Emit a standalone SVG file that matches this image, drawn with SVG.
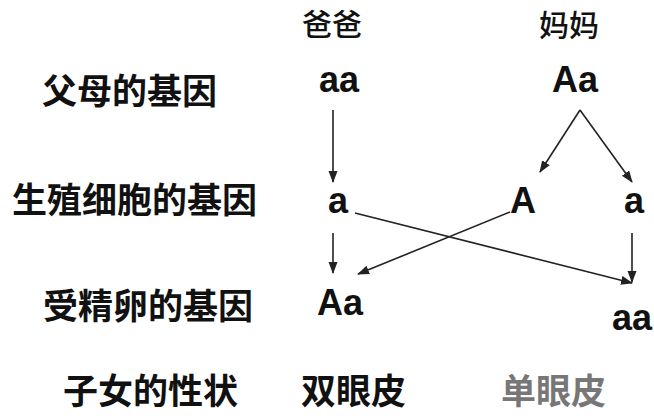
<svg xmlns="http://www.w3.org/2000/svg" width="654" height="416" viewBox="0 0 654 416">
<defs>
<style>
.cn{font-family:"Noto Sans CJK SC","Liberation Sans",sans-serif;font-weight:bold;fill:#111;}
.big{font-size:35px;}
.hd{font-size:30px;font-weight:500;}
.g{font-family:"Liberation Sans",Arial,sans-serif;font-weight:bold;font-size:36px;fill:#111;text-anchor:middle;}
.ln{stroke:#222;stroke-width:1.6;fill:none;marker-end:url(#ah);}
</style>
<marker id="ah" markerUnits="userSpaceOnUse" markerWidth="12" markerHeight="10" refX="11" refY="4.5" orient="auto">
<path d="M0,0 L12,4.5 L0,9 z" fill="#222"/>
</marker>
</defs>
<rect width="654" height="416" fill="#fff"/>
<g id="labels">
<text id="row1" class="cn big" x="42" y="104">父母的基因</text>
<text id="row2" class="cn big" x="12" y="213">生殖细胞的基因</text>
<text id="row3" class="cn big" x="43" y="319">受精卵的基因</text>
<text id="row4" class="cn big" x="63" y="404">子女的性状</text>
</g>
<g id="dad"><text class="cn hd" x="302" y="35">爸爸</text></g>
<g id="mom"><text class="cn hd" x="539" y="36">妈妈</text></g>
<g id="dad-gene"><text class="g" x="339" y="92">aa</text></g>
<g id="mom-gene"><text class="g" x="575" y="92">Aa</text></g>
<g id="dad-gamete"><text class="g" x="338" y="213">a</text></g>
<g id="mom-gamete-A"><text class="g" x="523" y="213">A</text></g>
<g id="mom-gamete-a"><text class="g" x="634" y="213">a</text></g>
<g id="zygote-Aa"><text class="g" x="340" y="315">Aa</text></g>
<g id="zygote-aa"><text class="g" x="632" y="330">aa</text></g>
<g id="trait-double"><text class="cn big" x="301" y="404">双眼皮</text></g>
<g id="trait-single"><text class="cn big" x="501" y="404" style="fill:#777">单眼皮</text></g>
<g id="connectors">
<line class="ln" x1="333" y1="110" x2="333" y2="182"/>
<line class="ln" x1="580" y1="110" x2="540" y2="172"/>
<line class="ln" x1="580" y1="110" x2="632" y2="182"/>
<line class="ln" x1="333" y1="233" x2="333" y2="273"/>
<line class="ln" x1="355" y1="213" x2="632" y2="283"/>
<line class="ln" x1="510" y1="212" x2="358" y2="274"/>
<line class="ln" x1="632" y1="233" x2="632" y2="282"/>
</g>
</svg>
